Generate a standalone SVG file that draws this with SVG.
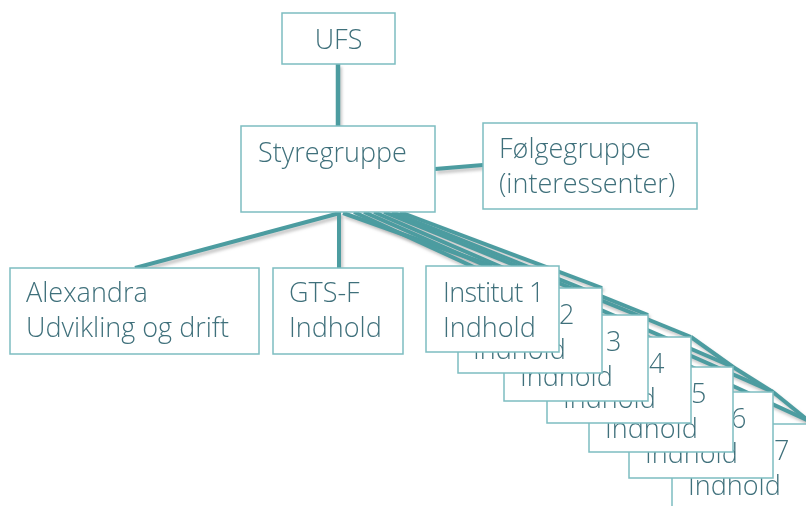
<svg xmlns="http://www.w3.org/2000/svg" width="806" height="506" viewBox="0 0 806 506">
<defs>
<style>
.box{fill:#ffffff;stroke:#7dbdc1;stroke-width:1.5}
.t{font-family:"Open Sans","Segoe UI","DejaVu Sans",sans-serif;font-weight:300;font-size:27px;fill:#3f707b}
.n{letter-spacing:-0.6px}
.c{stroke:#4c9ca0;stroke-width:4;fill:none;stroke-linecap:butt}
.s{stroke:#9a9a9a;stroke-width:4;fill:none;opacity:0.55}
</style>
<filter id="blur" x="-10%" y="-10%" width="120%" height="120%"><feGaussianBlur stdDeviation="1.6"/></filter>
</defs>
<rect width="806" height="506" fill="#ffffff"/>
<g id="connectors">
<g filter="url(#blur)" transform="translate(2,3)">
<line class="s" x1="338" y1="64" x2="338" y2="126"/>
<line class="s" x1="435" y1="169" x2="483" y2="165"/>
<line class="s" x1="340" y1="213" x2="135" y2="268"/>
<line class="s" x1="339" y1="212" x2="339" y2="268"/>
<line class="s" x1="343" y1="213" x2="492" y2="266"/>
<line class="s" x1="400" y1="212" x2="602" y2="288"/>
<line class="s" x1="392" y1="212" x2="648" y2="315"/>
<line class="s" x1="384" y1="212" x2="691" y2="337"/>
<line class="s" x1="374" y1="212" x2="733" y2="367"/>
<line class="s" x1="364" y1="212" x2="773" y2="392"/>
<line class="s" x1="354" y1="212" x2="820" y2="426"/>
<line class="s" x1="691" y1="337" x2="733" y2="367"/>
<line class="s" x1="733" y1="367" x2="773" y2="392"/>
<line class="s" x1="773" y1="392" x2="815" y2="426"/>
</g>
<line class="c" x1="338" y1="64" x2="338" y2="126" style="stroke-width:4.5"/>
<line class="c" x1="435" y1="169" x2="483" y2="165"/>
<line class="c" x1="340" y1="213" x2="135" y2="268"/>
<line class="c" x1="339" y1="212" x2="339" y2="268"/>
<line class="c" x1="343" y1="213" x2="492" y2="266"/>
<line class="c" x1="400" y1="212" x2="602" y2="288"/>
<line class="c" x1="392" y1="212" x2="648" y2="315"/>
<line class="c" x1="384" y1="212" x2="691" y2="337"/>
<line class="c" x1="374" y1="212" x2="733" y2="367"/>
<line class="c" x1="364" y1="212" x2="773" y2="392"/>
<line class="c" x1="354" y1="212" x2="820" y2="426"/>
<line class="c" x1="691" y1="337" x2="733" y2="367"/>
<line class="c" x1="733" y1="367" x2="773" y2="392"/>
<line class="c" x1="773" y1="392" x2="815" y2="426"/>
</g>
<g id="ufs"><rect class="box" x="282" y="13" width="113" height="51"/><text class="t" x="338.5" y="49" text-anchor="middle">UFS</text></g>
<g id="styregruppe"><rect class="box" x="241" y="126" width="194" height="86"/><text class="t" x="258" y="162">Styregruppe</text></g>
<g id="folgegruppe"><rect class="box" x="483" y="123" width="214" height="86"/><text class="t" x="499" y="158">Følgegruppe</text><text class="t" x="499" y="193">(interessenter)</text></g>
<g id="alexandra"><rect class="box" x="10" y="268" width="249" height="86"/><text class="t" x="26" y="302">Alexandra</text><text class="t" x="26" y="337">Udvikling og drift</text></g>
<g id="gtsf"><rect class="box" x="273" y="268" width="130" height="86"/><text class="t" x="289" y="302">GTS-F</text><text class="t" x="289" y="337">Indhold</text></g>
<g id="institut7"><rect class="box" x="672" y="424" width="144" height="86"/><text class="t n" x="688" y="460">Institut 7</text><text class="t" x="688" y="495">Indhold</text></g>
<g id="institut6"><rect class="box" x="629" y="392" width="144" height="86"/><text class="t n" x="645" y="428">Institut 6</text><text class="t" x="645" y="463">Indhold</text></g>
<g id="institut5"><rect class="box" x="589" y="367" width="144" height="85"/><text class="t n" x="605" y="403">Institut 5</text><text class="t" x="605" y="438">Indhold</text></g>
<g id="institut4"><rect class="box" x="547" y="337" width="144" height="86"/><text class="t n" x="563" y="373">Institut 4</text><text class="t" x="563" y="408">Indhold</text></g>
<g id="institut3"><rect class="box" x="504" y="315" width="144" height="86"/><text class="t n" x="520" y="351">Institut 3</text><text class="t" x="520" y="386">Indhold</text></g>
<g id="institut2"><rect class="box" x="458" y="288" width="144" height="85"/><text class="t n" x="473" y="324">Institut 2</text><text class="t" x="473" y="359">Indhold</text></g>
<g id="institut1"><rect class="box" x="426" y="266" width="133" height="86"/><text class="t n" x="443" y="302">Institut 1</text><text class="t" x="443" y="337">Indhold</text></g>
</svg>
